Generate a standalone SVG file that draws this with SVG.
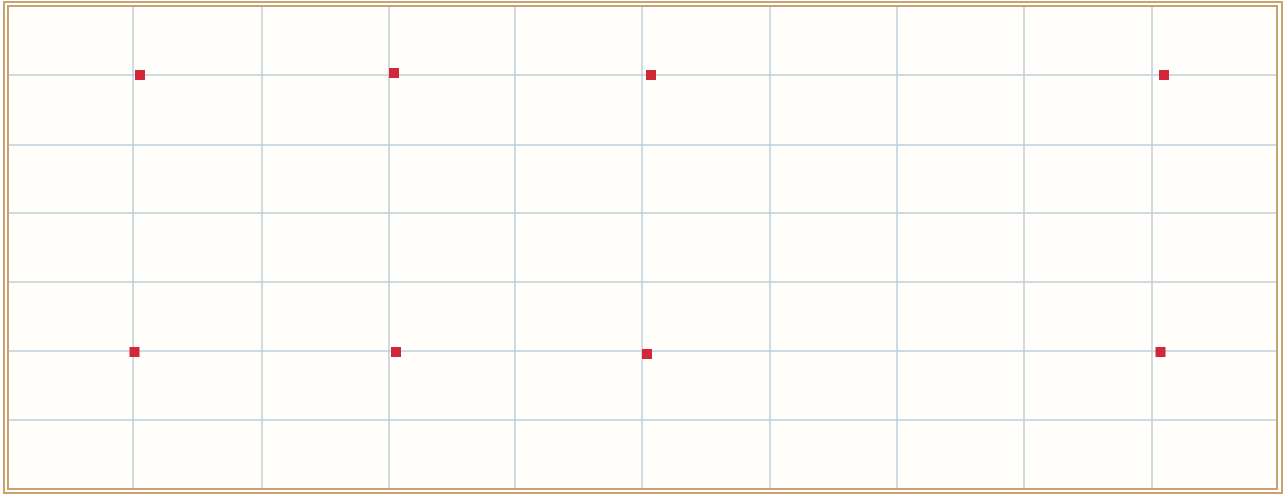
<svg xmlns="http://www.w3.org/2000/svg" width="1288" height="497" viewBox="0 0 1288 497">
  <style>
    .border { fill: none; stroke: #c9a26e; stroke-width: 2; }
    .grid line { stroke: #bccfda; stroke-width: 1.5; }
    .pt { fill: #d0283a; }
  </style>
  <rect x="0" y="0" width="1288" height="497" fill="#ffffff"/>
  <rect x="8" y="6" width="1269" height="483" fill="#fffefb"/>
  <g id="grid" class="grid">
    <line x1="133" y1="6" x2="133" y2="489"/>
    <line x1="262" y1="6" x2="262" y2="489"/>
    <line x1="389" y1="6" x2="389" y2="489"/>
    <line x1="515" y1="6" x2="515" y2="489"/>
    <line x1="642" y1="6" x2="642" y2="489"/>
    <line x1="770" y1="6" x2="770" y2="489"/>
    <line x1="897" y1="6" x2="897" y2="489"/>
    <line x1="1024" y1="6" x2="1024" y2="489"/>
    <line x1="1152" y1="6" x2="1152" y2="489"/>
    <line x1="8" y1="75" x2="1277" y2="75"/>
    <line x1="8" y1="145" x2="1277" y2="145"/>
    <line x1="8" y1="213" x2="1277" y2="213"/>
    <line x1="8" y1="282" x2="1277" y2="282"/>
    <line x1="8" y1="351" x2="1277" y2="351"/>
    <line x1="8" y1="420" x2="1277" y2="420"/>
  </g>
  <g id="frame">
    <rect class="border" x="4" y="2" width="1278" height="491"/>
    <rect class="border" x="8" y="6" width="1269" height="483"/>
  </g>
  <g id="connectors"></g>
  <g id="p1"><rect class="pt" x="135" y="70" width="10" height="10"/></g>
  <g id="p2"><rect class="pt" x="389" y="68" width="10" height="10"/></g>
  <g id="p3"><rect class="pt" x="646" y="70" width="10" height="10"/></g>
  <g id="p4"><rect class="pt" x="1159" y="70" width="10" height="10"/></g>
  <g id="p5"><rect class="pt" x="129.5" y="347" width="10" height="10"/></g>
  <g id="p6"><rect class="pt" x="391" y="347" width="10" height="10"/></g>
  <g id="p7"><rect class="pt" x="642" y="349" width="10" height="10"/></g>
  <g id="p8"><rect class="pt" x="1155.5" y="347" width="10" height="10"/></g>
</svg>
